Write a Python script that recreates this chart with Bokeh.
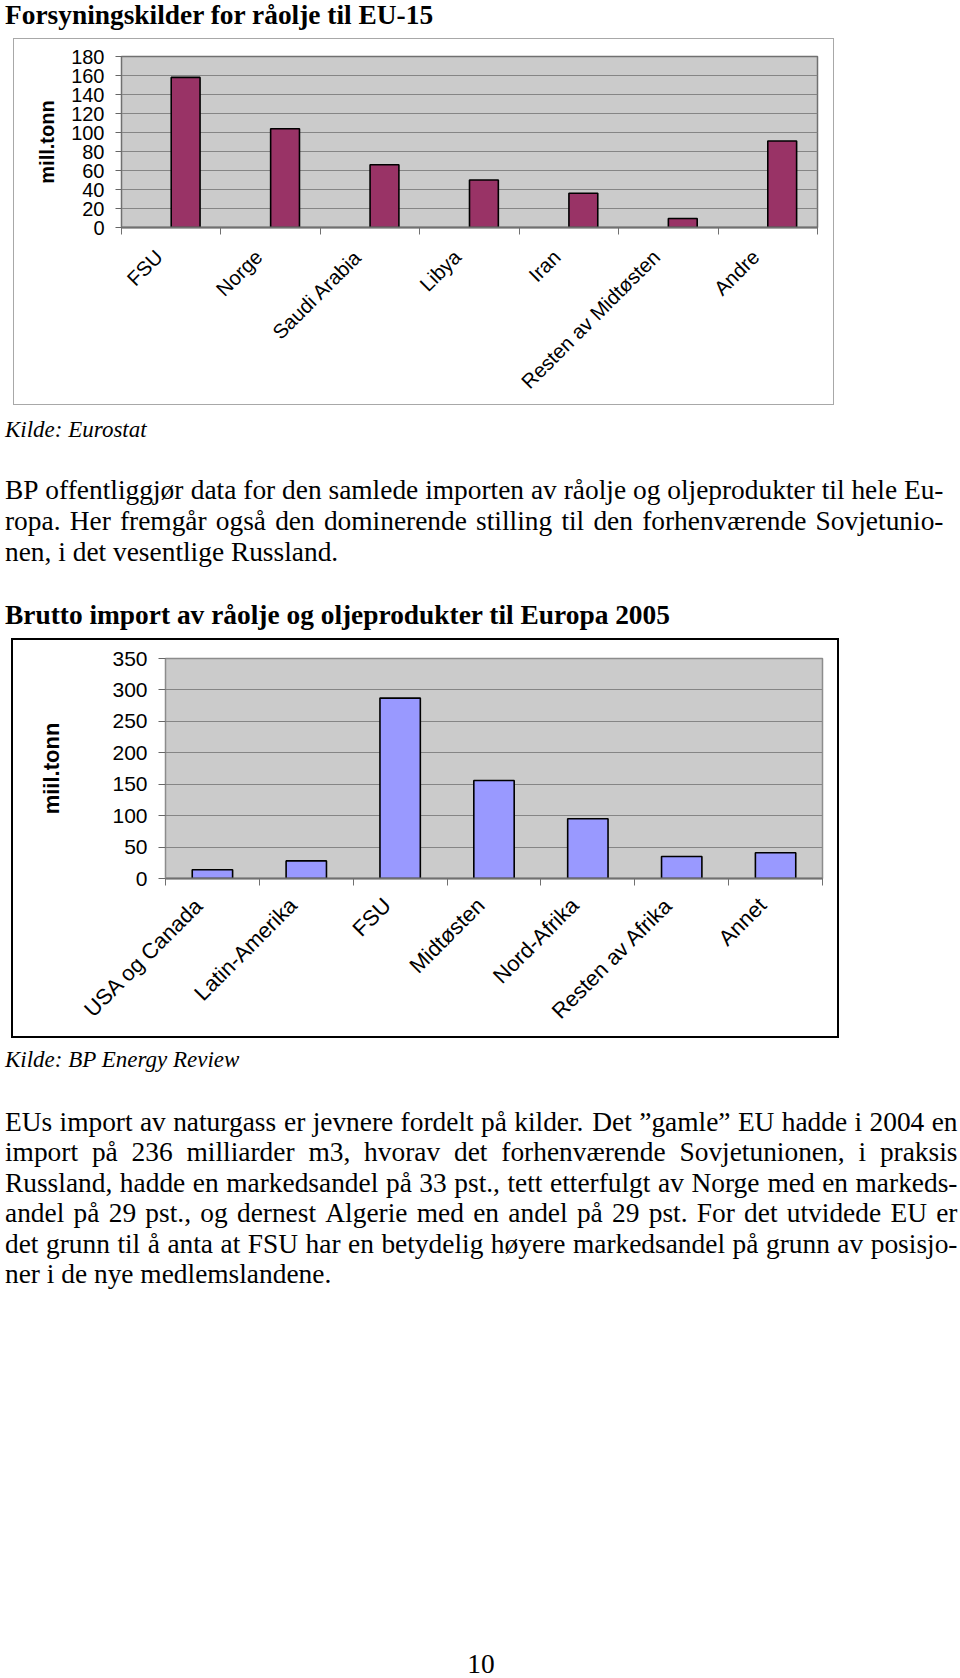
import math
from bokeh.plotting import figure
from bokeh.models import (ColumnDataSource, Range1d, LinearAxis, FixedTicker, Spacer)
from bokeh.layouts import column, row
from bokeh.core.properties import value
from bokeh.embed import file_html
from bokeh.resources import INLINE

# ---------------- data ----------------
eu15_sources = ["FSU", "Norge", "Saudi Arabia", "Libya", "Iran",
                "Resten av Midtøsten", "Andre"]
eu15_mill_tonn = [158, 104, 66, 50, 36, 9.5, 91]
eu15_y_ticks = [0, 20, 40, 60, 80, 100, 120, 140, 160, 180]

europe_sources = ["USA og Canada", "Latin-Amerika", "FSU", "Midtøsten",
                  "Nord-Afrika", "Resten av Afrika", "Annet"]
europe_mill_tonn = [14, 28, 287, 156, 95, 35, 41]
europe_y_ticks = [0, 50, 100, 150, 200, 250, 300, 350]

title_1 = "Forsyningskilder for råolje til EU-15"
source_1 = "Kilde: Eurostat"
para_1 = [
    "BP offentliggjør data for den samlede importen av råolje og oljeprodukter til hele Eu-",
    "ropa. Her fremgår også den dominerende stilling til den forhenværende Sovjetunio-",
    "nen, i det vesentlige Russland.",
]
title_2 = "Brutto import av råolje og oljeprodukter til Europa 2005"
source_2 = "Kilde: BP Energy Review"
para_2 = [
    "EUs import av naturgass er jevnere fordelt på kilder. Det \u201dgamle\u201d EU hadde i 2004 en",
    "import på 236 milliarder m3, hvorav det forhenværende Sovjetunionen, i praksis",
    "Russland, hadde en markedsandel på 33 pst., tett etterfulgt av Norge med en markeds-",
    "andel på 29 pst., og dernest Algerie med en andel på 29 pst. For det utvidede EU er",
    "det grunn til å anta at FSU har en betydelig høyere markedsandel på grunn av posisjo-",
    "ner i de nye medlemslandene.",
]
page_number = "10"

SANS = "Liberation Sans"
SERIF = "Liberation Serif"
BODY = 27.4
BASE_SHIFT = 0.31   # rendered glyphs sit this many em below the requested y

# Times New Roman advance widths (1/1000 em) for justification
TNR = dict(a=444, b=500, c=444, d=500, e=444, f=333, g=500, h=500, i=278, j=278,
           k=500, l=278, m=778, n=500, o=500, p=500, q=500, r=333, s=389, t=278,
           u=500, v=500, w=722, x=500, y=500, z=444,
           A=722, B=667, C=667, D=722, E=611, F=556, G=722, H=722, I=333, J=389,
           K=722, L=611, M=889, N=722, O=722, P=556, Q=722, R=667, S=556, T=611,
           U=722, V=722, W=944, X=722, Y=722, Z=611)
TNR.update({" ": 250, ".": 250, ",": 250, "-": 333, "\u201d": 444, "ø": 500,
            "å": 444, "æ": 667, ":": 278})
for dgt in "0123456789":
    TNR[dgt] = 500


def tw(s, size=BODY):
    return sum(TNR.get(ch, 500) for ch in s) / 1000.0 * size


def text_band(h):
    f = figure(width=960, height=h, x_range=Range1d(0, 960), y_range=Range1d(h, 0),
               output_backend="svg", toolbar_location=None,
               x_axis_location=None, y_axis_location=None, min_border=0,
               frame_align=False)
    f.grid.visible = False
    f.outline_line_color = None
    f.background_fill_color = "white"
    f.border_fill_color = "white"
    return f


def put(f, x, baseline, s, size=BODY, style="normal", align="left"):
    f.text(x=[x], y=[baseline - BASE_SHIFT * size], text=[s], text_font=value(SERIF),
           text_font_size=f"{size}px", text_font_style=style,
           text_align=align, text_baseline="alphabetic", text_color="black")


def paragraph(f, lines, x0, x1, base0, dy):
    for i, ln in enumerate(lines):
        b = base0 + i * dy
        if i < len(lines) - 1:
            words = ln.split(" ")
            ws = [tw(w) for w in words]
            gap = (x1 - x0 - sum(ws)) / (len(words) - 1)
            xs, x = [], x0
            for w in ws:
                xs.append(x)
                x += w + gap
            f.text(x=xs, y=[b - BASE_SHIFT * BODY] * len(words), text=words,
                   text_font=value(SERIF), text_font_size=f"{BODY}px",
                   text_align="left", text_baseline="alphabetic", text_color="black")
        else:
            put(f, x0, b, ln)


def bar_chart(cats, vals, ticks, width, height, mb, color, bar_w, bar_off, ytick_px,
              xlab_px, ylabel, ylabel_px, ylabel_standoff, tick_out, outline_color,
              xlab_standoff, xlab_shift):
    n = len(cats)
    p = figure(width=width, height=height, x_range=Range1d(0, n),
               y_range=Range1d(0, ticks[-1]), output_backend="svg",
               toolbar_location=None, x_axis_location=None,
               min_border_left=mb[0], min_border_right=mb[1],
               min_border_top=mb[2], min_border_bottom=mb[3],
               frame_align=False)
    p.background_fill_color = "#CBCBCB"
    p.border_fill_color = "white"
    p.outline_line_color = outline_color
    p.outline_line_width = 1.5
    for g in p.grid:
        if g.dimension == 0:
            g.visible = False
        else:
            g.ticker = FixedTicker(ticks=ticks)
            g.grid_line_color = "#858585"
            g.grid_line_width = 1

    yax = p.yaxis[0]
    yax.ticker = FixedTicker(ticks=ticks)
    yax.axis_line_color = outline_color
    yax.major_tick_line_color = "#666666"
    yax.major_tick_out = tick_out
    yax.major_tick_in = 0
    yax.minor_tick_line_color = None
    yax.major_label_text_font = SANS
    yax.major_label_text_font_size = f"{ytick_px}px"
    yax.major_label_text_color = "black"
    yax.major_label_standoff = 11
    yax.axis_label = ylabel
    yax.axis_label_text_font = SANS
    yax.axis_label_text_font_style = "bold"
    yax.axis_label_text_font_size = f"{ylabel_px}px"
    yax.axis_label_text_color = "black"
    yax.axis_label_standoff = ylabel_standoff

    # category axis: names (slanted) near the category centres,
    # short ticks (minor ticks) on the category boundaries
    centres = [i + 0.5 - xlab_shift for i in range(n)]
    bounds = list(range(n + 1))
    cax = LinearAxis(ticker=FixedTicker(ticks=centres, minor_ticks=bounds),
                     major_label_overrides={c: name for c, name in zip(centres, cats)},
                     major_label_orientation=math.pi / 4,
                     axis_line_color="#707070", axis_line_width=2,
                     major_tick_line_color=None, major_tick_out=0, major_tick_in=0,
                     minor_tick_line_color="#707070", minor_tick_line_width=1,
                     minor_tick_out=7, minor_tick_in=0,
                     major_label_standoff=xlab_standoff,
                     major_label_text_font=SANS,
                     major_label_text_font_size=f"{xlab_px}px",
                     major_label_text_color="black")
    p.add_layout(cax, "below")

    src = ColumnDataSource(dict(x=[i + 0.5 + bar_off for i in range(n)], val=vals))
    p.vbar(x="x", top="val", width=bar_w, source=src, fill_color=color,
           line_color="black", line_width=1.6)
    return p


def framed(chart, left_gap, right_gap, inner_w, inner_h, lw, color):
    """Surround a chart with a drawn rectangle (page layout element)."""
    st = {"background-color": color}
    hline = lambda: Spacer(width=inner_w + 2 * lw, height=lw, styles=st)
    vline = lambda: Spacer(width=lw, height=inner_h, styles=st)
    boxed = column(hline(), row(vline(), chart, vline(), spacing=0), hline(), spacing=0)
    return row(Spacer(width=left_gap, height=inner_h + 2 * lw), boxed,
               Spacer(width=right_gap, height=inner_h + 2 * lw), spacing=0)


# ---- band A (y 0-38): title 1 ----
band_a = text_band(38)
put(band_a, 4.5, 23, title_1, style="bold")

# ---- band B (y 38-405): chart 1 inside a light grey box x 13-834 ----
chart_1 = bar_chart(eu15_sources, eu15_mill_tonn, eu15_y_ticks, 819, 365,
                    (107, 16, 17, 177), "#993366", 0.29, 0.145, 20, 20.3,
                    "mill.tonn", 20, 10, 6, "#707070", 19, 0.12)
band_b = framed(chart_1, 13, 126, 819, 365, 1, "#A8A8A8")

# ---- band C (y 405-638): source, paragraph 1, title 2 ----
band_c = text_band(233)
put(band_c, 4.5, 436 - 405, source_1, size=23, style="italic")
paragraph(band_c, para_1, 4.5, 943, 498.3 - 405, 30.8)
put(band_c, 4.5, 623 - 405, title_2, style="bold")

# ---- band D (y 638-1038): chart 2 inside a black box x 11-839 ----
chart_2 = bar_chart(europe_sources, europe_mill_tonn, europe_y_ticks, 824, 396,
                    (152, 15, 18, 158), "#9999FF", 0.43, 0.0, 21, 21.8,
                    "miil.tonn", 22, 45, 7, "#8C8C8C", 16, 0.14)
band_d = framed(chart_2, 11, 121, 824, 396, 2, "black")

# ---- band E (y 1038-1678): source, paragraph 2, page number ----
band_e = text_band(640)
put(band_e, 4.5, 1066 - 1038, source_2, size=23, style="italic")
paragraph(band_e, para_2, 4.5, 957, 1130 - 1038, 30.4)
put(band_e, 480.5, 1672 - 1038, page_number, align="center")

page = column(band_a, band_b, band_c, band_d, band_e, spacing=0)

with open("out.html", "w") as fh:
    fh.write(file_html(page, INLINE))
